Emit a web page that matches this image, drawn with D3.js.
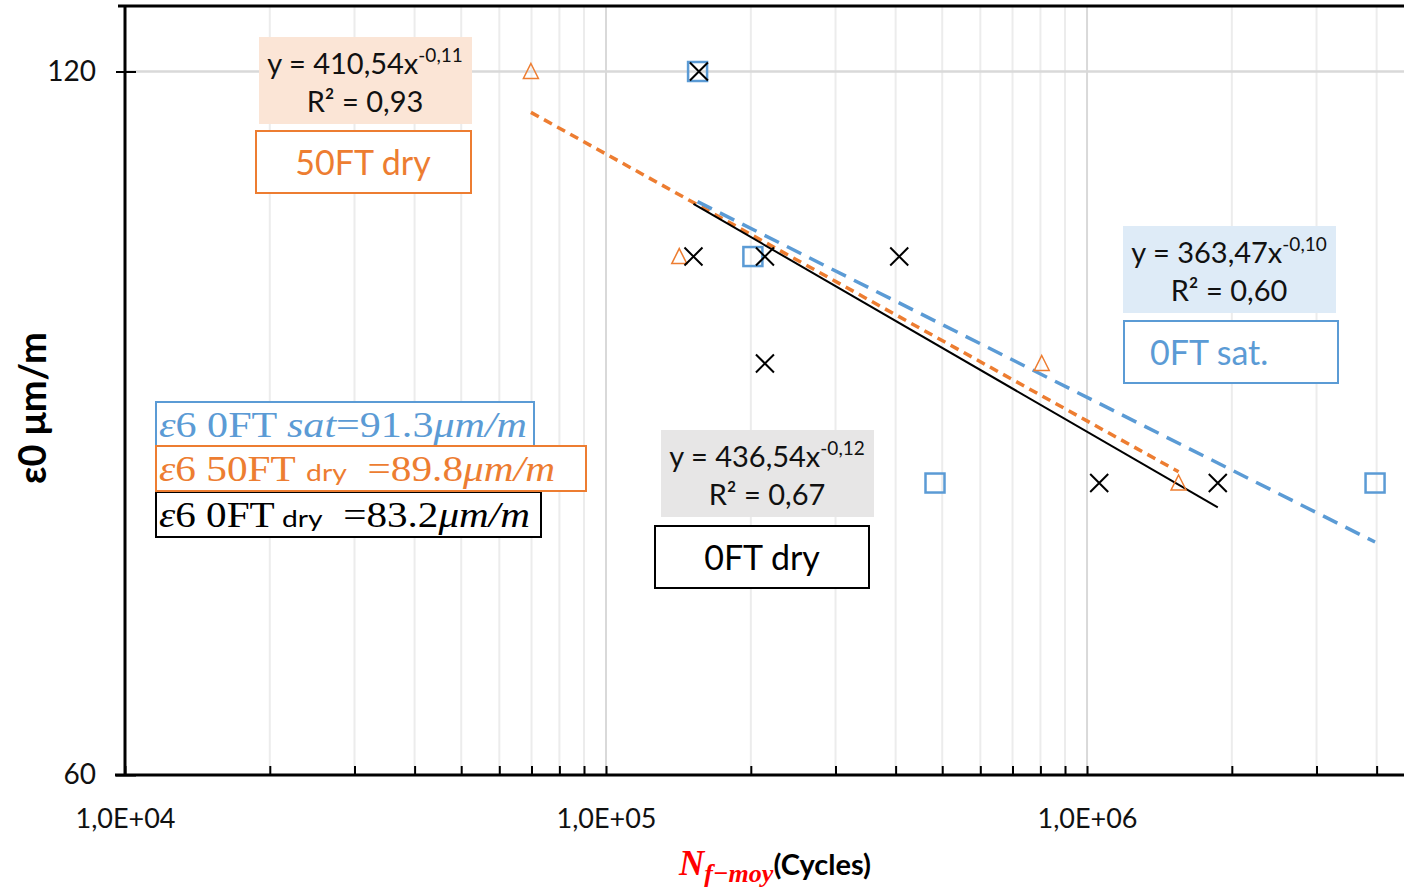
<!DOCTYPE html>
<html>
<head>
<meta charset="utf-8">
<script src="https://cdn.jsdelivr.net/npm/d3@7"></script>
<style>
  body { margin: 0; background: #fff; }
  svg { display: block; font-family: Lato, "Liberation Sans", sans-serif; }
</style>
</head>
<body>
<div class="customChart"></div>
<script>
// 0FT dry (black crosses)
const dry0X = [1.56e5, 1.52e5, 2.14e5, 4.07e5, 2.14e5, 1.06e6, 1.87e6];
const dry0Y = [120, 100, 100, 100, 90, 80, 80];
// 0FT sat. (blue squares)
const sat0X = [1.55e5, 2.02e5, 4.83e5, 3.97e6];
const sat0Y = [120, 100, 80, 80];
// 50FT dry (orange triangles)
const dry50X = [6.98e4, 1.42e5, 8.05e5, 1.55e6];
const dry50Y = [120, 100, 90, 80];

const yTicks = [60, 120];
const xMajor = [1e4, 1e5, 1e6];
const eqCoef = ["410,54", "436,54", "363,47"];
const eqExp = ["-0,11", "-0,12", "-0,10"];
const eqR2 = ["0,93", "0,67", "0,60"];

const width = 1404, height = 887;
const margin = ({top: 6, right: 0, bottom: 112, left: 125});

const svg = d3.select('.customChart')
	.append('svg')
	.attr('width', width)
	.attr('height', height);

const xScale = d3.scaleLog()
	.domain([1e4, 4.56e6])
	.range([margin.left, width - margin.right]);

const yScale = d3.scaleLog()
	.domain([60, 128])
	.range([height - margin.bottom, margin.top]);

const orange = "#ed7d31", blue = "#5b9bd5";

// all log positions 1..9 x 10^n inside the domain
const xTicks = [];
[4, 5, 6].forEach(e => d3.range(1, 10).forEach(k => {
	const v = k * Math.pow(10, e);
	if (v <= xScale.domain()[1]) xTicks.push(v);
}));

// gridlines
svg.append("g")
	.selectAll("line")
	.data(xTicks.filter(d => d > 1e4))
	.join("line")
	.attr("x1", d => xScale(d)).attr("x2", d => xScale(d))
	.attr("y1", yScale.range()[1]).attr("y2", yScale.range()[0])
	.attr("stroke", d => xMajor.includes(d) ? "#d9d9d9" : "#ececec")
	.attr("stroke-width", 2);

svg.append("g")
	.selectAll("line")
	.data(yTicks.filter(d => d > 60))
	.join("line")
	.attr("x1", margin.left).attr("x2", width)
	.attr("y1", d => yScale(d)).attr("y2", d => yScale(d))
	.attr("stroke", "#d9d9d9")
	.attr("stroke-width", 2.5);

// axes
const xAxis = d3.axisBottom(xScale)
	.tickValues(xTicks)
	.tickSizeInner(-9)
	.tickSizeOuter(0)
	.tickPadding(34)
	.tickFormat(d => xMajor.includes(d) ? "1,0E+" + String(Math.round(Math.log10(d))).padStart(2, "0") : "");

const bottomAxis = svg.append("g")
	.attr("transform", `translate(0, ${yScale.range()[0]})`)
	.call(xAxis);
bottomAxis.select(".domain").remove();
bottomAxis.selectAll(".tick line").attr("stroke", "#000").attr("stroke-width", 2);
bottomAxis.selectAll("text").attr("font-size", 27).attr("fill", "#111").attr("font-family", "Lato");

const yAxis = d3.axisLeft(yScale)
	.tickValues(yTicks)
	.tickSizeInner(9)
	.tickSizeOuter(0)
	.tickPadding(20)
	.tickFormat(d3.format("d"));

const leftAxis = svg.append("g")
	.attr("transform", `translate(${margin.left}, 0)`)
	.call(yAxis);
leftAxis.select(".domain").remove();
leftAxis.selectAll(".tick line").attr("x1", 11).attr("stroke", "#000").attr("stroke-width", 2);
leftAxis.selectAll("text").attr("font-size", 28).attr("fill", "#111").attr("font-family", "Lato");

// frame lines
svg.append("line")
	.attr("x1", 115).attr("x2", width)
	.attr("y1", yScale.range()[0]).attr("y2", yScale.range()[0])
	.attr("stroke", "#000").attr("stroke-width", 3);
svg.append("line")
	.attr("x1", margin.left).attr("x2", margin.left)
	.attr("y1", margin.top).attr("y2", yScale.range()[0])
	.attr("stroke", "#000").attr("stroke-width", 3);
svg.append("line")
	.attr("x1", 118).attr("x2", width)
	.attr("y1", margin.top).attr("y2", margin.top)
	.attr("stroke", "#000").attr("stroke-width", 3);

// power trendline, least squares on log-log like Excel
function powerFit(xs, ys) {
	const lx = xs.map(Math.log), ly = ys.map(Math.log);
	const mx = d3.mean(lx), my = d3.mean(ly);
	const b = d3.sum(lx, (v, i) => (v - mx) * (ly[i] - my)) / d3.sum(lx, v => (v - mx) * (v - mx));
	const a = Math.exp(my - b * mx);
	const [x0, x1] = d3.extent(xs);
	return [x0, x1].map(x => ({x: x, y: a * Math.pow(x, b)}));
}

const line = d3.line()
	.x(d => xScale(d.x))
	.y(d => yScale(d.y));

svg.append("path")
	.datum(powerFit(dry50X, dry50Y))
	.attr("fill", "none")
	.attr("stroke", orange)
	.attr("stroke-width", 3.5)
	.attr("stroke-dasharray", "9,6")
	.attr("d", line);

svg.append("path")
	.datum(powerFit(sat0X, sat0Y))
	.attr("fill", "none")
	.attr("stroke", blue)
	.attr("stroke-width", 3.5)
	.attr("stroke-dasharray", "16,9")
	.attr("d", line);

svg.append("path")
	.datum(powerFit(dry0X, dry0Y))
	.attr("fill", "none")
	.attr("stroke", "#000")
	.attr("stroke-width", 2)
	.attr("d", line);

// markers
svg.append("g")
	.selectAll("path")
	.data(dry50X.map((x, i) => ({x: x, y: dry50Y[i]})))
	.join("path")
	.attr("transform", d => `translate(${xScale(d.x)},${yScale(d.y)})`)
	.attr("d", "M0,-8L7.5,7L-7.5,7Z")
	.attr("fill", "none")
	.attr("stroke", orange)
	.attr("stroke-width", 1.5);

svg.append("g")
	.selectAll("rect")
	.data(sat0X.map((x, i) => ({x: x, y: sat0Y[i]})))
	.join("rect")
	.attr("x", d => xScale(d.x) - 9.5)
	.attr("y", d => yScale(d.y) - 9.5)
	.attr("width", 19)
	.attr("height", 19)
	.attr("fill", "none")
	.attr("stroke", blue)
	.attr("stroke-width", 2.5);

svg.append("g")
	.selectAll("path")
	.data(dry0X.map((x, i) => ({x: x, y: dry0Y[i]})))
	.join("path")
	.attr("transform", d => `translate(${xScale(d.x)},${yScale(d.y)})`)
	.attr("d", "M-9,-9L9,9M-9,9L9,-9")
	.attr("fill", "none")
	.attr("stroke", "#000")
	.attr("stroke-width", 2);

// equation labels
function eqBox(x0, y0, fill, i) {
	const g = svg.append("g").attr("font-family", "Lato").attr("fill", "#111");
	g.append("rect").attr("x", x0).attr("y", y0).attr("width", 213).attr("height", 87).attr("fill", fill);
	const t = g.append("text").attr("x", x0 + 106).attr("y", y0 + 37)
		.attr("text-anchor", "middle").attr("font-size", 29);
	t.append("tspan").text("y = " + eqCoef[i] + "x");
	t.append("tspan").attr("font-size", 19).attr("dy", -12).text(eqExp[i]);
	g.append("text").attr("x", x0 + 106).attr("y", y0 + 75)
		.attr("text-anchor", "middle").attr("font-size", 29)
		.text("R² = " + eqR2[i]);
}
eqBox(259, 37, "#fbe5d6", 0);
eqBox(661, 430, "#e7e6e6", 1);
eqBox(1123, 226, "#deebf7", 2);

function nameBox(x0, y0, w, color, label, tx, anchor) {
	svg.append("rect").attr("x", x0).attr("y", y0).attr("width", w).attr("height", 62)
		.attr("fill", "#fff").attr("stroke", color).attr("stroke-width", 2);
	svg.append("text").attr("x", tx).attr("y", y0 + 44)
		.attr("text-anchor", anchor).attr("font-size", 34).attr("font-family", "Lato")
		.attr("fill", color).text(label);
}
nameBox(256, 131, 215, orange, "50FT dry", 363, "middle");
nameBox(655, 526, 214, "#000", "0FT dry", 762, "middle");
nameBox(1124, 321, 214, blue, "0FT sat.", 1150, "start");

// epsilon6 boxes, serif parts like Cambria Math (wider glyphs), "dry" in sans
function epsBox(y0, w, color, parts, len) {
	svg.append("rect").attr("x", 156).attr("y", y0).attr("width", w).attr("height", 45)
		.attr("fill", "#fff").attr("stroke", color).attr("stroke-width", 2);
	const t = svg.append("text").attr("x", 159).attr("y", y0 + 35)
		.attr("fill", color).attr("font-size", 35).attr("font-family", "Liberation Serif")
		.attr("textLength", len).attr("lengthAdjust", "spacingAndGlyphs");
	parts.forEach(p => {
		const s = t.append("tspan").text(p[0]);
		if (p[1] === "i") s.attr("font-style", "italic");
		if (p[1] === "s") s.attr("font-family", "Lato").attr("font-size", 24);
	});
}
epsBox(402, 378, blue, [["ε", "i"], ["6 0FT ", ""], ["sat", "i"], ["=91.3", ""], ["μm/m", "i"]], 368);
epsBox(492, 385, "#000", [["ε", "i"], ["6 0FT", ""], ["\u00a0dry", "s"], ["\u00a0\u00a0=83.2", ""], ["μm/m", "i"]], 371);
epsBox(446, 430, orange, [["ε", "i"], ["6 50FT\u00a0", ""], ["dry", "s"], ["\u00a0\u00a0=89.8", ""], ["μm/m", "i"]], 396);

// axis titles
svg.append("text")
	.attr("transform", "translate(46, 408) rotate(-90)")
	.attr("text-anchor", "middle")
	.attr("font-size", 38)
	.attr("font-weight", "bold")
	.attr("font-family", "Lato")
	.attr("fill", "#000")
	.text("ε0 μm/m");

const xTitle = svg.append("text")
	.attr("x", 775).attr("y", 875)
	.attr("text-anchor", "middle")
	.attr("font-weight", "bold");
xTitle.append("tspan").attr("fill", "#ff0000").attr("font-family", "Liberation Serif")
	.attr("font-style", "italic").attr("font-size", 35).text("N");
xTitle.append("tspan").attr("fill", "#ff0000").attr("font-family", "Liberation Serif")
	.attr("font-style", "italic").attr("font-size", 26).attr("dy", 7).text("f−moy");
xTitle.append("tspan").attr("fill", "#000").attr("font-family", "Lato")
	.attr("font-size", 29).attr("dy", -7).text("(Cycles)");
</script>
</body>
</html>
